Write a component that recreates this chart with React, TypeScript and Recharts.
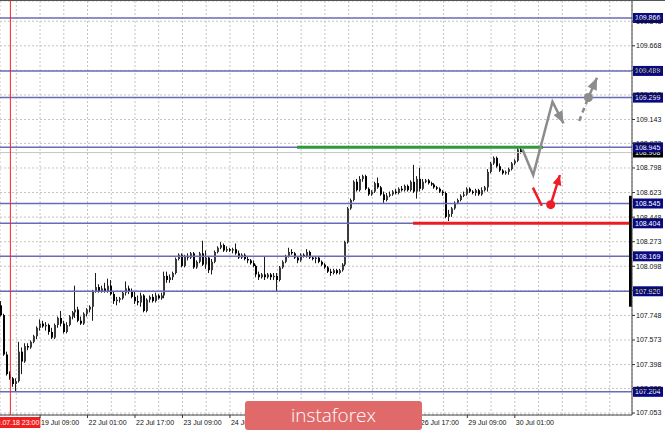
import React from 'react';
import { ComposedChart, Bar, Line, XAxis, YAxis, CartesianGrid, ReferenceLine, ReferenceDot } from 'recharts';

// hourly bars, index 0 = 18 Jul 23:00 (the red separator)
const firstBar = -3;
const lastSlot = 209;

// [open, high, low, close]
const candles: [number, number, number, number][] = [
  [107.82, 107.85, 107.74, 107.75], [107.75, 107.76, 107.46, 107.47], [107.47, 107.49, 107.32, 107.33],
  [107.33, 107.35, 107.29, 107.30], [107.30, 107.31, 107.24, 107.26], [107.26, 107.30, 107.21, 107.28],
  [107.28, 107.56, 107.27, 107.49], [107.49, 107.52, 107.33, 107.42], [107.42, 107.55, 107.41, 107.53],
  [107.53, 107.55, 107.50, 107.52], [107.52, 107.57, 107.51, 107.56], [107.56, 107.61, 107.55, 107.60],
  [107.60, 107.67, 107.58, 107.66], [107.66, 107.72, 107.64, 107.69], [107.69, 107.71, 107.66, 107.67],
  [107.67, 107.70, 107.64, 107.68], [107.68, 107.69, 107.61, 107.63], [107.63, 107.66, 107.58, 107.59],
  [107.59, 107.69, 107.58, 107.68], [107.68, 107.74, 107.66, 107.73], [107.73, 107.78, 107.67, 107.69],
  [107.69, 107.71, 107.62, 107.63], [107.63, 107.70, 107.62, 107.68], [107.68, 107.75, 107.67, 107.74],
  [107.74, 107.78, 107.72, 107.77], [107.77, 107.96, 107.73, 107.79], [107.79, 107.81, 107.70, 107.71],
  [107.71, 107.74, 107.68, 107.69], [107.69, 107.77, 107.68, 107.76], [107.76, 107.80, 107.74, 107.79],
  [107.79, 107.82, 107.77, 107.81], [107.81, 107.93, 107.71, 107.92], [107.92, 108.05, 107.91, 107.95],
  [107.95, 107.97, 107.91, 107.92], [107.92, 107.96, 107.91, 107.94], [107.94, 107.98, 107.91, 107.92],
  [107.92, 108.01, 107.91, 107.96], [107.96, 108.00, 107.89, 107.90], [107.90, 107.92, 107.83, 107.85],
  [107.85, 107.88, 107.82, 107.86], [107.86, 107.88, 107.84, 107.87], [107.87, 107.92, 107.86, 107.91],
  [107.91, 107.99, 107.89, 107.94], [107.94, 107.96, 107.90, 107.92], [107.92, 107.94, 107.87, 107.88],
  [107.88, 107.92, 107.83, 107.85], [107.85, 107.89, 107.82, 107.84], [107.84, 107.91, 107.81, 107.89],
  [107.89, 107.90, 107.77, 107.78], [107.78, 107.87, 107.77, 107.86], [107.86, 107.89, 107.84, 107.88],
  [107.88, 107.90, 107.84, 107.85], [107.85, 107.91, 107.84, 107.89], [107.89, 107.90, 107.86, 107.87],
  [107.87, 107.91, 107.86, 107.89], [107.89, 108.06, 107.87, 108.03], [108.03, 108.06, 107.98, 108.00],
  [108.00, 108.04, 107.98, 108.02], [108.02, 108.06, 108.00, 108.05], [108.05, 108.16, 108.04, 108.15],
  [108.15, 108.19, 108.14, 108.18], [108.18, 108.19, 108.09, 108.10], [108.10, 108.18, 108.09, 108.17],
  [108.17, 108.19, 108.14, 108.16], [108.16, 108.20, 108.15, 108.19], [108.19, 108.20, 108.08, 108.09],
  [108.09, 108.14, 108.08, 108.13], [108.13, 108.20, 108.12, 108.19], [108.19, 108.28, 108.10, 108.11],
  [108.11, 108.21, 108.08, 108.16], [108.16, 108.17, 108.05, 108.07], [108.07, 108.15, 108.04, 108.13],
  [108.13, 108.21, 108.12, 108.20], [108.20, 108.24, 108.19, 108.23], [108.23, 108.27, 108.22, 108.25],
  [108.25, 108.26, 108.20, 108.21], [108.21, 108.24, 108.20, 108.22], [108.22, 108.23, 108.20, 108.21],
  [108.21, 108.23, 108.19, 108.22], [108.22, 108.26, 108.18, 108.19], [108.19, 108.21, 108.15, 108.16],
  [108.16, 108.19, 108.15, 108.18], [108.18, 108.19, 108.14, 108.15], [108.15, 108.17, 108.12, 108.14],
  [108.14, 108.15, 108.11, 108.12], [108.12, 108.14, 108.09, 108.10], [108.10, 108.11, 108.02, 108.04],
  [108.04, 108.06, 108.00, 108.02], [108.02, 108.05, 108.01, 108.04], [108.04, 108.17, 108.00, 108.02],
  [108.02, 108.05, 108.01, 108.04], [108.04, 108.05, 108.00, 108.02], [108.02, 108.05, 108.00, 108.03],
  [108.03, 108.05, 107.92, 108.00], [108.00, 108.10, 107.99, 108.09], [108.09, 108.14, 108.08, 108.13],
  [108.13, 108.18, 108.12, 108.17], [108.17, 108.23, 108.16, 108.20], [108.20, 108.22, 108.18, 108.19],
  [108.19, 108.20, 108.15, 108.16], [108.16, 108.17, 108.12, 108.14], [108.14, 108.19, 108.13, 108.18],
  [108.18, 108.19, 108.16, 108.17], [108.17, 108.22, 108.16, 108.20], [108.20, 108.21, 108.15, 108.16],
  [108.16, 108.17, 108.14, 108.15], [108.15, 108.17, 108.12, 108.16], [108.16, 108.17, 108.12, 108.13],
  [108.13, 108.14, 108.10, 108.11], [108.11, 108.12, 108.08, 108.09], [108.09, 108.10, 108.05, 108.06],
  [108.06, 108.08, 108.03, 108.05], [108.05, 108.08, 108.04, 108.07], [108.07, 108.08, 108.04, 108.05],
  [108.05, 108.08, 108.04, 108.07], [108.07, 108.12, 108.06, 108.11], [108.11, 108.28, 108.10, 108.27],
  [108.27, 108.52, 108.26, 108.51], [108.51, 108.58, 108.50, 108.57], [108.57, 108.71, 108.56, 108.70],
  [108.70, 108.72, 108.63, 108.64], [108.64, 108.74, 108.63, 108.72], [108.72, 108.75, 108.70, 108.74],
  [108.74, 108.75, 108.64, 108.65], [108.65, 108.66, 108.60, 108.61], [108.61, 108.64, 108.60, 108.63],
  [108.63, 108.70, 108.62, 108.69], [108.69, 108.73, 108.65, 108.66], [108.66, 108.67, 108.60, 108.61],
  [108.61, 108.63, 108.55, 108.57], [108.57, 108.62, 108.56, 108.60], [108.60, 108.63, 108.59, 108.61],
  [108.61, 108.64, 108.60, 108.63], [108.63, 108.65, 108.61, 108.62], [108.62, 108.66, 108.61, 108.65],
  [108.65, 108.67, 108.63, 108.64], [108.64, 108.68, 108.63, 108.67], [108.67, 108.68, 108.63, 108.64],
  [108.64, 108.71, 108.63, 108.70], [108.70, 108.82, 108.62, 108.63], [108.63, 108.74, 108.58, 108.72],
  [108.72, 108.80, 108.63, 108.65], [108.65, 108.72, 108.64, 108.70], [108.70, 108.72, 108.69, 108.71],
  [108.71, 108.72, 108.68, 108.69], [108.69, 108.70, 108.67, 108.68], [108.68, 108.69, 108.65, 108.66],
  [108.66, 108.67, 108.64, 108.65], [108.65, 108.66, 108.62, 108.63], [108.63, 108.64, 108.60, 108.62],
  [108.62, 108.63, 108.44, 108.45], [108.45, 108.50, 108.42, 108.47], [108.47, 108.52, 108.45, 108.51],
  [108.51, 108.56, 108.50, 108.55], [108.55, 108.58, 108.54, 108.57], [108.57, 108.61, 108.56, 108.60],
  [108.60, 108.63, 108.59, 108.61], [108.61, 108.66, 108.60, 108.65], [108.65, 108.66, 108.62, 108.63],
  [108.63, 108.64, 108.61, 108.62], [108.62, 108.65, 108.60, 108.64], [108.64, 108.65, 108.60, 108.61],
  [108.61, 108.66, 108.60, 108.64], [108.64, 108.67, 108.63, 108.66], [108.66, 108.79, 108.63, 108.77],
  [108.77, 108.84, 108.76, 108.83], [108.83, 108.88, 108.82, 108.87], [108.87, 108.88, 108.80, 108.81],
  [108.81, 108.83, 108.77, 108.78], [108.78, 108.79, 108.75, 108.76], [108.76, 108.78, 108.75, 108.77],
  [108.77, 108.80, 108.75, 108.79], [108.79, 108.84, 108.78, 108.83], [108.83, 108.86, 108.82, 108.85],
  [108.85, 108.95, 108.84, 108.93], [108.93, 108.94, 108.90, 108.908],
];

const priceTicks = [107.053, 107.228, 107.398, 107.573, 107.748, 107.923, 108.098, 108.273, 108.448,
  108.623, 108.798, 108.973, 109.143, 109.318, 109.493, 109.668, 109.843];
const gridBars = [2, 10, 18, 26, 34, 42, 50, 58, 66, 74, 82, 90, 98, 106, 114, 122, 130, 138, 146, 154,
  162, 170, 178, 186, 194, 202];
const dateTicks: [number, string][] = [
  [10, '19 Jul 09:00'], [26, '22 Jul 01:00'], [42, '22 Jul 17:00'], [58, '23 Jul 09:00'],
  [74, '24 Jul 01:00'], [90, '24 Jul 17:00'], [106, '25 Jul 09:00'], [122, '26 Jul 01:00'],
  [138, '26 Jul 17:00'], [154, '29 Jul 09:00'], [170, '30 Jul 01:00'],
];
const separatorLabel = '2019.07.18 23:00';

const levels = [109.866, 109.489, 109.299, 108.945, 108.545, 108.404, 108.169, 107.92, 107.204];
const bidPrice = 108.908;
const resistance = { from: 96.6, to: 179.5, price: 108.945 };
const support = { from: 135.7, to: 209.5, price: 108.404 };
const rightMarker = { bar: 209, top: 108.6, bottom: 107.81 };

// projected paths (bar index, price)
const mainPath = [{ x: 172.6, p: 108.93 }, { x: 176.2, p: 108.748 }, { x: 182.7, p: 109.27 }, { x: 186.4, p: 109.116 }];
const dashPath = [{ x: 191.7, p: 109.133 }, { x: 194.8, p: 109.3 }];
const dashHead = [{ x: 194.8, p: 109.3 }, { x: 197.7, p: 109.44 }];
const redDown = [{ x: 176.1, p: 108.658 }, { x: 179.1, p: 108.529 }];
const redUp = [{ x: 182.1, p: 108.537 }, { x: 185.2, p: 108.748 }];
const grayDot = { x: 194.8, p: 109.3 };
const redDot = { x: 182.1, p: 108.537 };

const FONT = '"Liberation Sans", Arial, sans-serif';
const LEVEL = '#6a6ab8';
const TAG = '#0a0a80';

const data = [] as any[];
for (let k = firstBar; k <= lastSlot; k++) {
  const c = candles[k - firstBar];
  data.push(c ? { k, o: c[0], h: c[1], l: c[2], c: c[3] } : { k });
}

const Candle = (props: any) => {
  const { x, y, width, height, payload } = props;
  if (!payload || payload.h == null || !isFinite(y)) return <g />;
  const top = Math.min(y, y + height);
  const h = Math.abs(height);
  const span = payload.h - payload.l;
  const py = (v: number) => (span > 0 ? top + ((payload.h - v) / span) * h : top);
  const col = Math.round(x + width / 2 - 1);
  const bTop = py(Math.max(payload.o, payload.c));
  const bBot = py(Math.min(payload.o, payload.c));
  const bull = payload.c >= payload.o;
  return (
    <g>
      <line x1={col + 0.5} x2={col + 0.5} y1={top} y2={top + h} stroke="#1a1a1a" strokeWidth={1} />
      <rect x={col} y={bTop} width={2} height={Math.max(1, bBot - bTop)} fill={bull ? '#3a3a3a' : '#000'} />
    </g>
  );
};

const PriceTag = (props: any) => {
  const { viewBox, text, fill } = props;
  if (!viewBox) return null;
  const x0 = viewBox.x + viewBox.width + 1;
  return (
    <g>
      <rect x={x0} y={viewBox.y - 5} width={30} height={10} fill={fill} />
      <text x={x0 + 2} y={viewBox.y} dy="0.35em" fill="#fff" fontSize={7} fontFamily={FONT}>{text}</text>
    </g>
  );
};

const SeparatorTag = (props: any) => {
  const { viewBox } = props;
  if (!viewBox) return null;
  const yb = viewBox.y + viewBox.height;
  return (
    <g>
      <rect x={viewBox.x - 11} y={yb + 2} width={41} height={11} fill="#f02020" />
      <text x={viewBox.x + 29} y={yb + 7.5} dy="0.35em" textAnchor="end" fill="#fff" fontSize={7} fontFamily={FONT}>{separatorLabel}</text>
    </g>
  );
};

const DateTick = (props: any) => {
  const { x, y, payload } = props;
  const hit = dateTicks.find((d) => d[0] === Number(payload.value));
  if (!hit) return <g />;
  return (
    <g>
      <line x1={x} x2={x} y1={y} y2={y + 3} stroke="#333" />
      <text x={x + 1} y={y + 7.5} dy="0.35em" fill="#111" fontSize={7} fontFamily={FONT}>{hit[1]}</text>
    </g>
  );
};

const PriceTick = (props: any) => {
  const { x, y, payload } = props;
  return (
    <g>
      <line x1={x} x2={x + 3} y1={y} y2={y} stroke="#333" />
      <text x={x + 4} y={y} dy="0.35em" fill="#111" fontSize={7} fontFamily={FONT}>{Number(payload.value).toFixed(3)}</text>
    </g>
  );
};

const arrowDot = (n: number, color: string, len: number, half: number) => {
  let prev: { x: number; y: number } | null = null;
  return (props: any) => {
    const { cx, cy, index, points } = props;
    if (index < n - 1) {
      prev = { x: cx, y: cy };
      return <g key={`a${index}`} />;
    }
    const from = points && points.length > 1 ? points[points.length - 2] : prev;
    if (!from) return <g key={`a${index}`} />;
    const ang = Math.atan2(cy - from.y, cx - from.x);
    const bx = cx - len * Math.cos(ang);
    const by = cy - len * Math.sin(ang);
    const px = -Math.sin(ang) * half;
    const py = Math.cos(ang) * half;
    return (
      <polygon key={`a${index}`} points={`${cx},${cy} ${bx + px},${by + py} ${bx - px},${by - py}`} fill={color} />
    );
  };
};

export default function App() {
  return (
    <div style={{ position: 'absolute', left: 0, top: 0, width: 665, height: 431, background: '#fff', borderTop: '1px solid #555', boxSizing: 'border-box', overflow: 'hidden' }}>
      <ComposedChart width={665} height={430} data={data} margin={{ top: 0, right: 0, bottom: 0, left: 0 }}>
        <CartesianGrid stroke="#c4c4c4" strokeDasharray="2 2" />
        <XAxis dataKey="k" type="category" ticks={gridBars} interval={0} tick={<DateTick />} tickSize={0} tickMargin={0} height={16} axisLine={{ stroke: '#444' }} tickLine={false} />
        <XAxis xAxisId="n" dataKey="x" type="number" domain={[firstBar - 0.5, lastSlot + 0.5]} allowDataOverflow hide />
        <YAxis orientation="right" width={33} type="number" domain={[107.039, 109.987]} allowDataOverflow ticks={priceTicks} interval={0} tick={<PriceTick />} tickSize={0} tickMargin={0} axisLine={{ stroke: '#444' }} tickLine={false} />

        <ReferenceLine y={bidPrice} stroke="#c8c8c8" strokeWidth={1} label={<PriceTag text={bidPrice.toFixed(3)} fill="#000" />} />
        {levels.map((v) => (
          <ReferenceLine key={v} y={v} stroke={LEVEL} strokeWidth={1.5} label={<PriceTag text={v.toFixed(3)} fill={TAG} />} />
        ))}

        <Bar dataKey={(d: any) => (d.h == null ? null : [d.l, d.h])} shape={<Candle />} isAnimationActive={false} />

        <ReferenceLine xAxisId="n" x={0} stroke="#ff2020" strokeWidth={1} label={<SeparatorTag />} />
        <ReferenceLine xAxisId="n" segment={[{ x: resistance.from, y: resistance.price }, { x: resistance.to, y: resistance.price }]} stroke="#2f9a3c" strokeWidth={3} />
        <ReferenceLine xAxisId="n" segment={[{ x: support.from, y: support.price }, { x: support.to, y: support.price }]} stroke="#ec1c24" strokeWidth={3} />
        <ReferenceLine xAxisId="n" segment={[{ x: rightMarker.bar, y: rightMarker.top }, { x: rightMarker.bar, y: rightMarker.bottom }]} stroke="#000" strokeWidth={3} />

        <Line xAxisId="n" data={mainPath} dataKey="p" type="linear" stroke="#8c8c8c" strokeWidth={2.5} dot={arrowDot(mainPath.length, '#8c8c8c', 12, 5)} activeDot={false} isAnimationActive={false} />
        <Line xAxisId="n" data={dashPath} dataKey="p" type="linear" stroke="#8c8c8c" strokeWidth={2.5} strokeDasharray="5 4" dot={false} activeDot={false} isAnimationActive={false} />
        <Line xAxisId="n" data={dashHead} dataKey="p" type="linear" stroke="#8c8c8c" strokeWidth={2.5} dot={arrowDot(dashHead.length, '#8c8c8c', 12, 5)} activeDot={false} isAnimationActive={false} />
        <Line xAxisId="n" data={redDown} dataKey="p" type="linear" stroke="#ee1c24" strokeWidth={2.5} dot={false} activeDot={false} isAnimationActive={false} />
        <Line xAxisId="n" data={redUp} dataKey="p" type="linear" stroke="#ee1c24" strokeWidth={2.5} dot={arrowDot(redUp.length, '#ee1c24', 10, 4.5)} activeDot={false} isAnimationActive={false} />
        <ReferenceDot xAxisId="n" x={grayDot.x} y={grayDot.p} r={4.5} fill="#8c8c8c" stroke="none" />
        <ReferenceDot xAxisId="n" x={redDot.x} y={redDot.p} r={4.5} fill="#ee1c24" stroke="none" />
      </ComposedChart>
      <div style={{ position: 'absolute', left: 245, top: 400, width: 177, height: 29, background: '#e06a6a', borderRadius: 3, color: '#fff', fontFamily: '"Open Sans", sans-serif', fontWeight: 300, fontSize: 19, lineHeight: '29px', textAlign: 'center' }}>
        instaforex
      </div>
    </div>
  );
}
